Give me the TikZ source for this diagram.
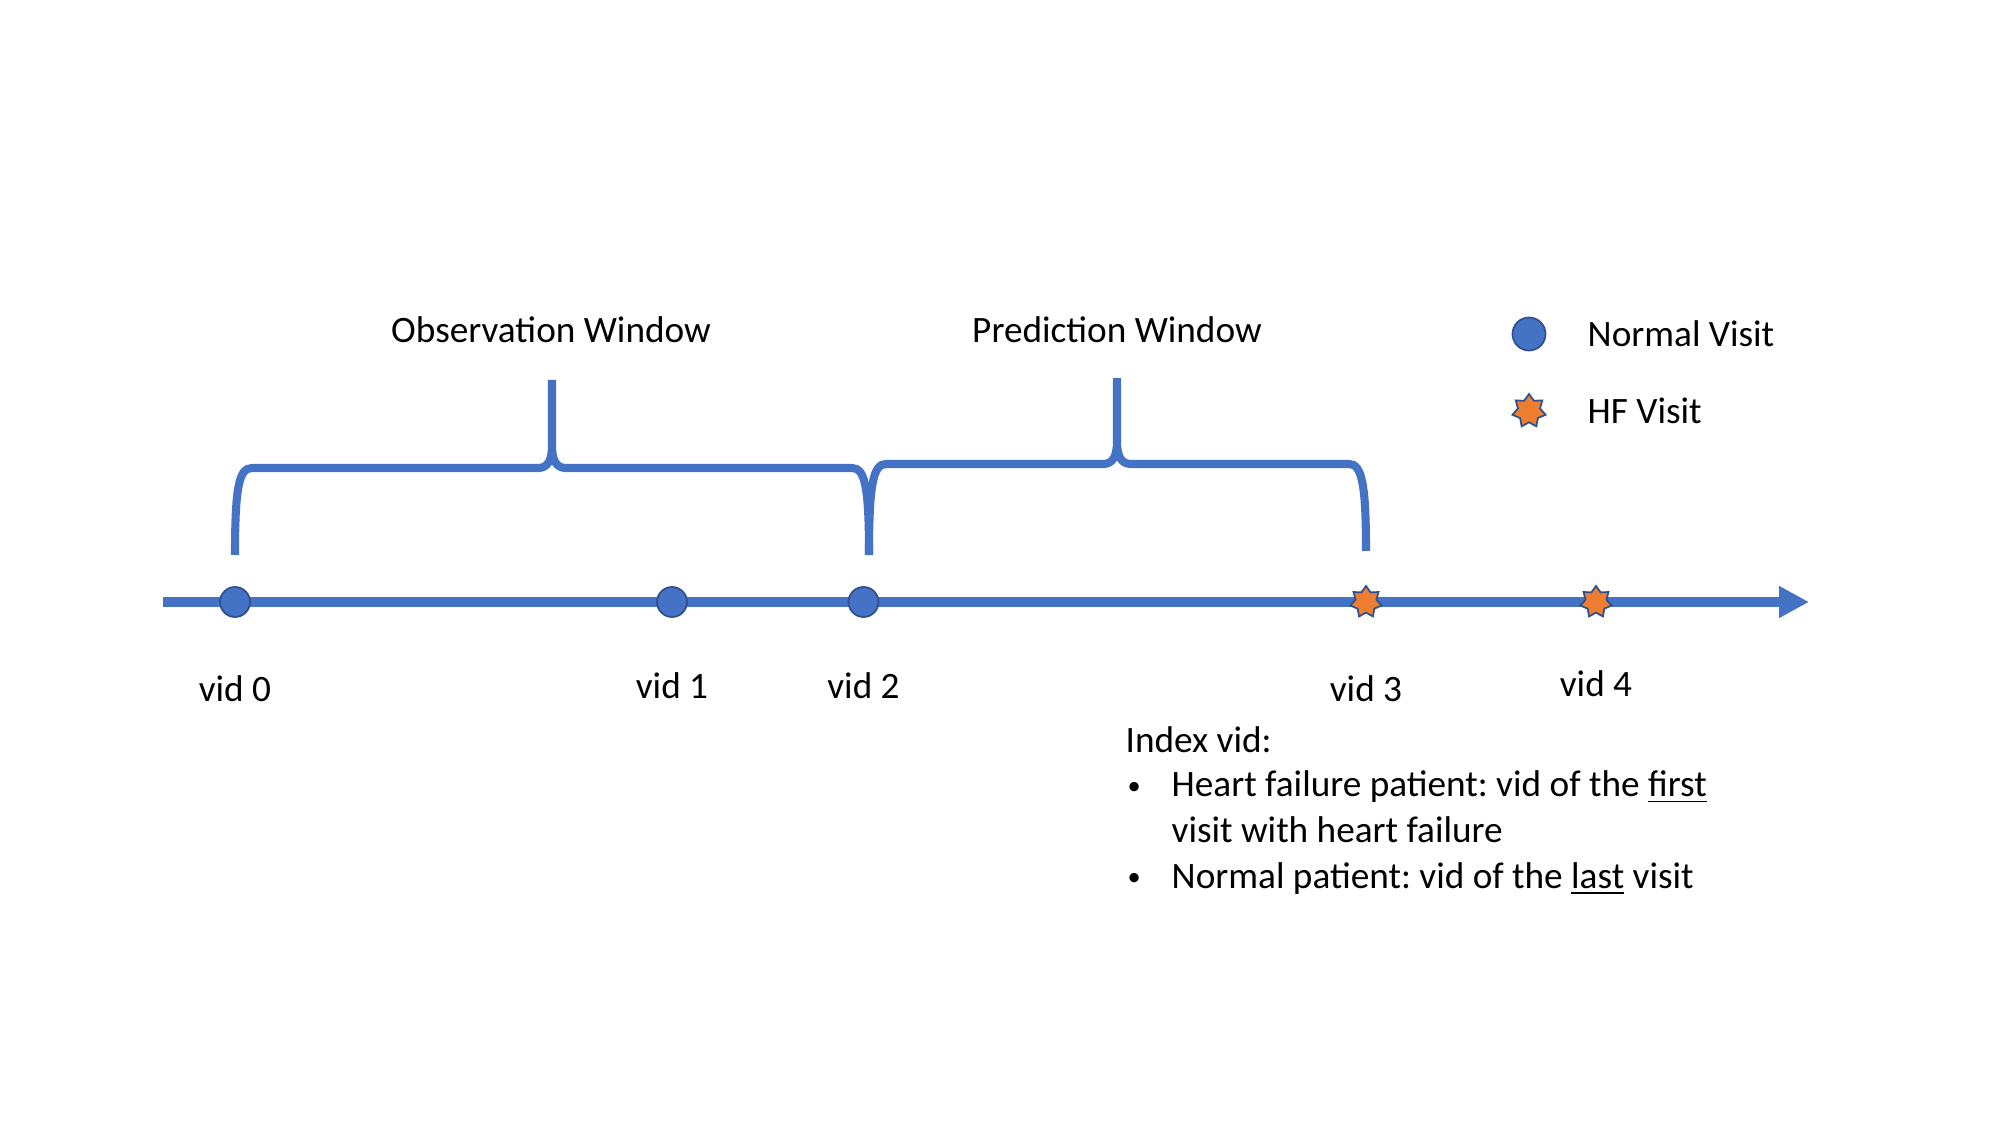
\documentclass[tikz,border=0pt]{standalone}
\usepackage{fontspec}
\setmainfont{Carlito}
\frenchspacing
\usetikzlibrary{arrows.meta,shapes.geometric}
\definecolor{lineblue}{HTML}{4472C4}
\definecolor{edgeblue}{HTML}{2F528F}
\definecolor{hforange}{HTML}{ED7D31}

\begin{document}
\begin{tikzpicture}[
    font=\fontsize{10.6}{12.9}\selectfont,
    normal/.style={circle, fill=lineblue, draw=edgeblue, line width=0.5pt, inner sep=0pt, minimum size=0.3cm},
    hf/.style={star, star points=7, star point ratio=1.5, fill=hforange, draw=edgeblue, line width=0.5pt, inner sep=0pt, minimum size=0.32cm},
    brace/.style={lineblue, line width=2.3pt},
    txt/.style={inner sep=0pt}
]
    \useasboundingbox (0,0) rectangle (20,11.25);

    % 定義時間軸的位置
    \coordinate (S) at (1.63, 5.23);
    \coordinate (T) at (18.09, 5.23);

    % 畫出時間軸
    \draw[lineblue, line width=2.6pt, -{Triangle[length=0.3cm, width=0.3cm]}] (S) -- (T);

    % 畫出就診點
    \node[normal] (V0) at (2.35, 5.23) {};
    \node[normal] (V1) at (6.72, 5.23) {};
    \node[normal] (V2) at (8.635, 5.23) {};
    \node[hf] (V3) at (13.66, 5.23) {};
    \node[hf] (V4) at (15.96, 5.23) {};

    % 就診編號
    \node[txt] (L0) at (2.35, 4.36) {vid 0};
    \node[txt] (L1) at (6.72, 4.39) {vid 1};
    \node[txt] (L2) at (8.635, 4.39) {vid 2};
    \node[txt] (L3) at (13.66, 4.36) {vid 3};
    \node[txt] (L4) at (15.96, 4.41) {vid 4};

    % 觀察窗的大括號
    \draw[brace] (2.35,5.70) .. controls (2.35,6.38) and (2.39,6.57) .. (2.52,6.57)
        -- (5.38,6.57) .. controls (5.48,6.57) and (5.52,6.65) .. (5.52,6.80) -- (5.52,7.45);
    \draw[brace] (5.52,6.80) .. controls (5.52,6.65) and (5.56,6.57) .. (5.66,6.57)
        -- (8.52,6.57) .. controls (8.65,6.57) and (8.69,6.38) .. (8.69,5.70);

    % 預測窗的大括號
    \draw[brace] (8.69,5.70) .. controls (8.69,6.40) and (8.73,6.61) .. (8.86,6.61)
        -- (11.03,6.61) .. controls (11.13,6.61) and (11.17,6.69) .. (11.17,6.84) -- (11.17,7.47);
    \draw[brace] (11.17,6.84) .. controls (11.17,6.69) and (11.21,6.61) .. (11.31,6.61)
        -- (13.49,6.61) .. controls (13.62,6.61) and (13.66,6.40) .. (13.66,5.74);

    % 窗口標題
    \node[txt] (OW) at (5.51, 7.95) {Observation Window};
    \node[txt] (PW) at (11.17, 7.95) {Prediction Window};

    % 圖例
    \node[normal, minimum size=0.33cm] (KN) at (15.29, 7.91) {};
    \node[txt, anchor=west] (KNT) at (15.87, 7.91) {Normal Visit};
    \node[hf, minimum size=0.34cm] (KH) at (15.29, 7.14) {};
    \node[txt, anchor=west] (KHT) at (15.87, 7.14) {HF Visit};

    % 說明文字
    \node[txt, anchor=base west] (IX) at (11.25, 3.73) {Index vid:};
    \node[txt, anchor=base west, font=\fontsize{7.5}{9}\selectfont] (D1) at (11.27, 3.31) {•};
    \node[txt, anchor=base west] (H1) at (11.71, 3.285) {Heart failure patient: vid of the \underline{first}};
    \node[txt, anchor=base west] (H2) at (11.71, 2.825) {visit with heart failure};
    \node[txt, anchor=base west, font=\fontsize{7.5}{9}\selectfont] (D2) at (11.27, 2.395) {•};
    \node[txt, anchor=base west] (N1) at (11.71, 2.37) {Normal patient: vid of the \underline{last} visit};
\end{tikzpicture}
\end{document}
